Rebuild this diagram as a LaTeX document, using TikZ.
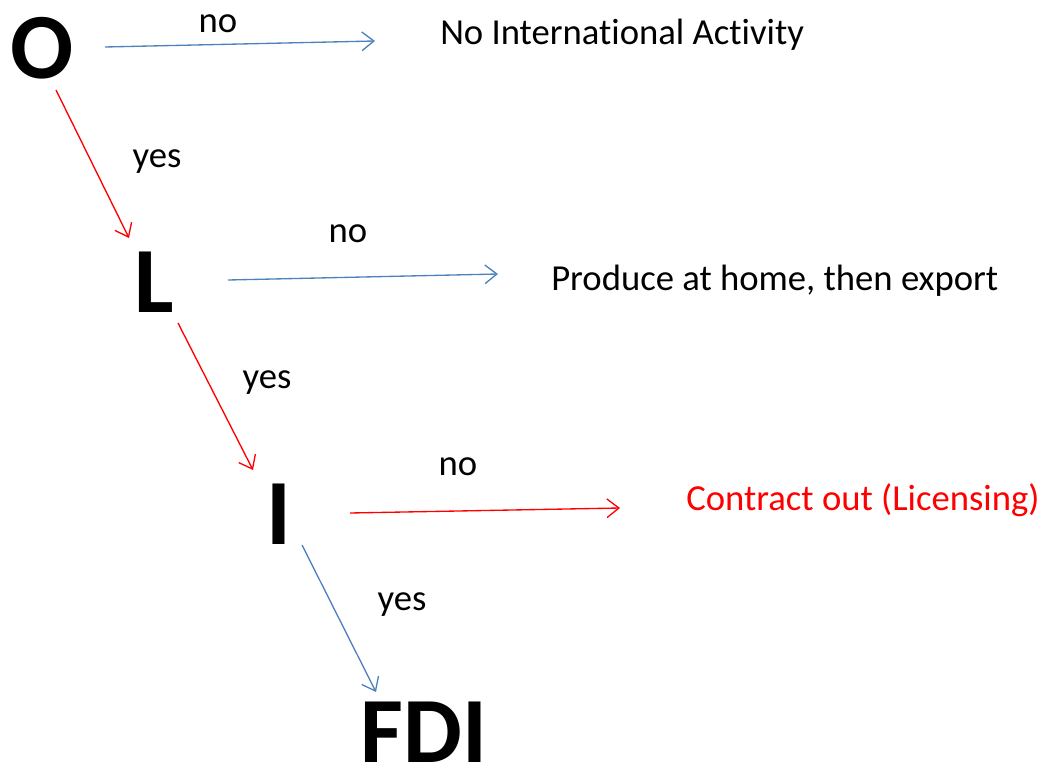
\documentclass[tikz,border=0pt]{standalone}
\usepackage{fontspec}
\setmainfont{Carlito}[Ligatures=NoCommon]
\usetikzlibrary{arrows.meta}
\definecolor{arrblue}{HTML}{4F81BD}
\definecolor{arrred}{HTML}{FF0000}
\tikzset{
  big/.style={font=\fontsize{70}{70}\selectfont\bfseries, inner sep=0pt, anchor=base},
  txt/.style={font=\fontsize{27.5}{30}\selectfont, inner sep=0pt, anchor=base west},
  lbl/.style={font=\fontsize{27.5}{30}\selectfont, inner sep=0pt, anchor=base},
  conn/.style={line width=1pt, -{Straight Barb[length=9pt,width=14pt,line width=1pt]}},
  bluearr/.style={conn, draw=arrblue},
  redarr/.style={conn, draw=arrred},
}
\begin{document}
\begin{tikzpicture}[x=0.75pt,y=-0.75pt]
\useasboundingbox (0,0) rectangle (1056,770);
% main letters
\node[big] (O) at (42,79) {O};
\node[big] (L) at (154,312) {L};
\node[big] (I) at (279,544) {I};
\node[big] (F) at (424,762) {FDI};
% outcome texts
\node[txt] (na) at (440,45) {No International Activity};
\node[txt] (pe) at (551,290) {Produce at home, then export};
\node[txt, text=arrred] (co) at (686,510) {Contract out (Licensing)};
% labels
\node[lbl] (l1) at (218,33) {no};
\node[lbl] (l2) at (157,168) {yes};
\node[lbl] (l3) at (348,242) {no};
\node[lbl] (l4) at (267,388) {yes};
\node[lbl] (l5) at (458,475) {no};
\node[lbl] (l6) at (402,610) {yes};
% connector end points
\coordinate (o1) at (105,47);  \coordinate (o2) at (375,41);
\coordinate (o3) at (56,90);   \coordinate (o4) at (129,238);
\coordinate (p1) at (228,280); \coordinate (p2) at (498,274);
\coordinate (p3) at (178,323); \coordinate (p4) at (253,470);
\coordinate (q1) at (350,513); \coordinate (q2) at (620,508);
\coordinate (q3) at (302,545); \coordinate (q4) at (376,692);
% connectors
\draw[bluearr] (o1) -- (o2);
\draw[redarr]  (o3) -- (o4);
\draw[bluearr] (p1) -- (p2);
\draw[redarr]  (p3) -- (p4);
\draw[redarr]  (q1) -- (q2);
\draw[bluearr] (q3) -- (q4);
\end{tikzpicture}
\end{document}
